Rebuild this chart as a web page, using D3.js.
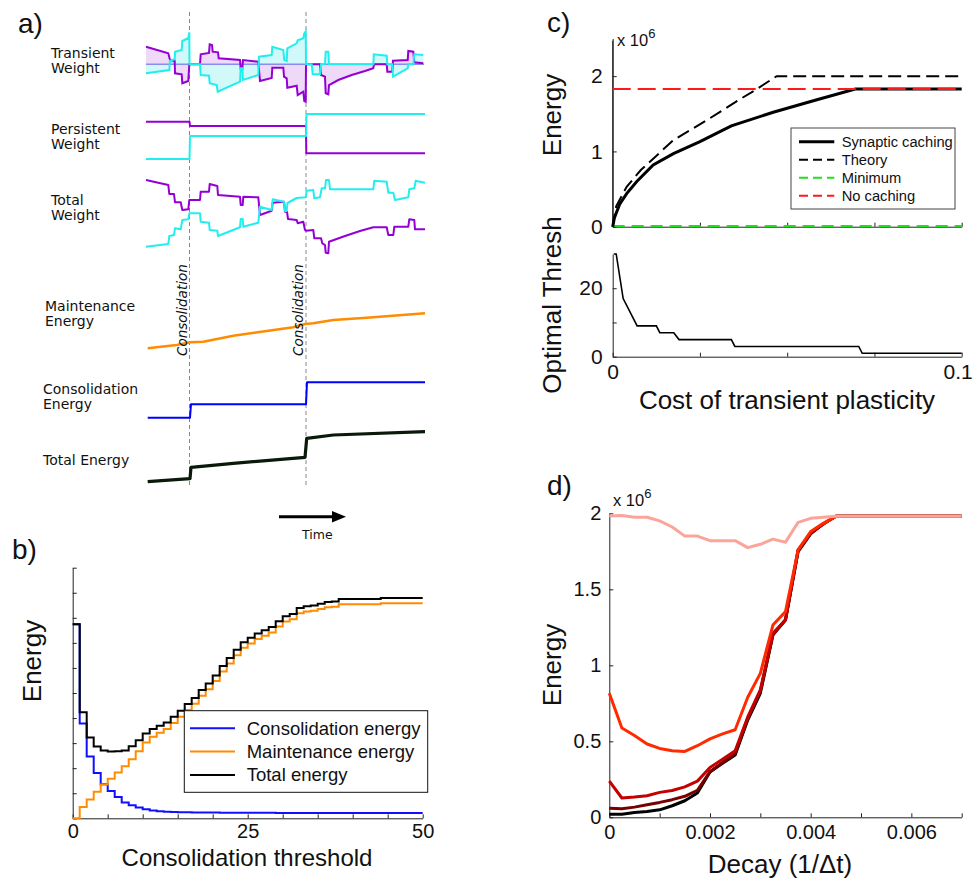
<!DOCTYPE html>
<html>
<head>
<meta charset="utf-8">
<script src="https://cdn.jsdelivr.net/npm/d3@7"></script>
<style>
  body { margin: 0; background: #fff; }
</style>
</head>
<body>
<svg id="fig" width="975" height="882"></svg>
<script>
// ---------- panel a: schematic traces, [time, weight] ----------
const transientPurple = [[0,17.6],[22.3,11],[24,4.3],[28.7,3.3],[29,-9],[35.7,-10],[36.3,-19],[42.3,-16.7],[43.3,0],[54,0],[54.7,10],[63,11.3],[63.7,20],[66,19.3],[66.7,12.6],[72,12],[72.7,6],[94,4.3],[94.7,-4.7],[96.3,-4.7],[97,4.3],[112.3,2.6],[114,-16.7],[125.7,-13.7],[126.3,-3.4],[137.3,-3.4],[138,-12.4],[140.7,-14],[141.3,-23.4],[150.7,-21.4],[151.7,-30.7],[157.3,-27.4],[158.3,-36.7],[159.7,-37.4],[160,0],[174,0],[175,-10.7],[179,-12.4],[179.7,-29],[182.3,-30],[183,-20.7],[192.3,-15.7],[205.7,-10.7],[219,-6.7],[227.3,-4],[228,0],[240.7,0],[241.3,-7.4],[246.3,-7.4],[247,3.6],[261.7,4.3],[262.3,13.3],[267.3,12.6],[268.3,2],[277.3,1]];
const transientCyan = [[0,-9],[23.3,-5.7],[24,3.6],[28.7,5],[29,12.6],[35.7,14.3],[36.3,23.3],[42.3,26.3],[43.3,32],[43.5,0],[54,0],[54.7,-10.7],[63,-11.4],[63.7,-19],[70.7,-20.7],[71.7,-27.4],[94,-17.4],[94.7,-4],[96.3,-4],[97,-15.7],[112.3,-10.7],[113,7.6],[125.7,9.3],[126.3,17.6],[137.3,14.3],[138.3,4.3],[140.7,3.3],[141.3,16],[150.7,21],[151.7,24],[157.3,26],[158.3,31],[159.7,33],[160,0],[165.7,0],[166.7,-10],[174,-10],[175,0],[179,0],[179.7,12.6],[182.3,12.6],[183,0],[227.3,0],[227.8,10],[240.7,8.6],[241.3,0],[246.3,0],[247,-12.4],[261.7,-4],[262.3,0],[267.3,0],[268.3,10],[277.3,9.3]];
const persistentPurple = [[0,18.3],[43.5,18.3],[44,14],[160,14],[160.3,-13.3],[279,-13.3]];
const persistentCyan = [[0,-19],[43.5,-19],[44,4],[160,4],[160.5,26],[279,26]];
const totalPurple = [[0,35],[22.3,30],[23.3,21],[28,21],[29,12.7],[34.7,12.7],[36.3,5],[42.3,5.7],[43.3,15],[54,15],[54.7,23.3],[63,23.3],[63.7,31],[71.3,29],[72,20],[94,18.3],[94.7,10],[96.7,10],[97.3,18.3],[112.3,17.7],[114,0],[125.7,4.3],[126.7,12.3],[138,13.3],[139,3.3],[141,3.3],[142,-4],[150.7,-5],[151.7,-8.3],[157.3,-6.7],[159,-15],[160,-15.7],[167.3,-15],[168.3,-23.3],[175,-23.3],[176.3,-28.3],[179,-30],[179.7,-37.7],[182.3,-38.3],[183,-26.7],[199,-21],[214,-16],[227.3,-12.3],[240.7,-12.3],[242.3,-20],[247.3,-20],[248.3,-11.7],[262.3,-11.7],[263.3,-4.3],[268.3,-5],[269,-14.3],[279,-14.3]];
const totalCyan = [[0,-31.7],[22.3,-29],[23.3,-21],[28,-20],[29,-13.3],[34.7,-14.3],[36.3,-5],[42.3,-4.3],[43.3,1.7],[54,1.7],[54.7,-6.7],[63,-7.7],[63.7,-15],[71.3,-15.7],[72,-21],[94,-12.3],[94.7,-4],[96.7,-4],[97.3,-11.7],[112.3,-7.7],[114,8.3],[125.7,5],[126.7,15.7],[138,13.3],[139,4],[140.7,4],[141.5,12],[150.7,17],[159.7,17.7],[160.7,24.3],[167.3,25],[168.3,16.7],[174,17.7],[175.7,26.7],[179,26.7],[180,35],[183,35],[184,25.7],[227.3,25.7],[228.3,34.3],[240.7,33.3],[242.3,22.3],[247.3,22.3],[249,15],[262.3,17.7],[263.3,25.7],[268.3,26.7],[269.7,34.3],[279,32.3]];
const maintenanceTrace = [[1.7,1.7],[30.7,5],[44,7.7],[57.3,8.3],[87.3,14.3],[120.7,19],[147.3,22.7],[159,26],[167.3,26.7],[187.3,30],[220.7,32.3],[279,36.7]];
const consolidationTrace = [[1.7,2.3],[44,2.3],[45,15.7],[160,15.7],[161,37.7],[279,37.7]];
const totalEnergyTrace = [[1.7,3.3],[44,6.3],[45,17.7],[87.3,21.7],[159,27.7],[160.7,46.7],[187.3,50],[279,53.3]];
const consolidationTimes = [43.5, 160];

// ---------- panel b: energy vs threshold (steps, threshold 0..49) ----------
const consEnergy = [7.74,3.78,2.47,1.81,1.36,1.09,0.85,0.63,0.52,0.43,0.36,0.31,0.28,0.26,0.25,0.24,0.24,0.23,0.23,0.23,0.23,0.22,0.22,0.22,0.22,0.22,0.22,0.22,0.22,0.21,0.21,0.21,0.21,0.21,0.21,0.21,0.21,0.21,0.21,0.21,0.21,0.21,0.21,0.21,0.21,0.21,0.21,0.21,0.21,0.21];
const maintEnergy = [0,0.45,0.75,1.06,1.35,1.58,1.83,2.08,2.36,2.68,3.02,3.25,3.41,3.56,3.80,4.05,4.32,4.57,4.89,5.15,5.48,5.86,6.18,6.51,6.81,6.98,7.15,7.28,7.41,7.65,7.85,7.94,8.18,8.25,8.28,8.35,8.42,8.44,8.54,8.54,8.54,8.54,8.54,8.54,8.58,8.58,8.58,8.58,8.58,8.58];
const totalEnergy = [7.74,4.23,3.22,2.87,2.71,2.67,2.68,2.71,2.88,3.11,3.38,3.56,3.69,3.82,4.05,4.29,4.56,4.80,5.12,5.38,5.70,6.08,6.40,6.73,7.03,7.20,7.37,7.50,7.63,7.86,8.06,8.15,8.39,8.46,8.49,8.56,8.63,8.65,8.75,8.75,8.75,8.75,8.75,8.75,8.79,8.79,8.79,8.79,8.79,8.79];

// ---------- panel c ----------
const cachingCurve = [[0,0],[0.0005,0.12],[0.002,0.3],[0.004,0.44],[0.0069,0.6],[0.0116,0.82],[0.0174,0.97],[0.025,1.13],[0.034,1.34],[0.046,1.52],[0.058,1.68],[0.0695,1.83],[0.1,1.83]];
const theoryCurve = [[0,0],[0.001,0.27],[0.004,0.53],[0.008,0.75],[0.0174,1.15],[0.0275,1.43],[0.036,1.68],[0.041,1.82],[0.047,2.0],[0.1,2.0]];
const minimumLevel = 0.01;
const noCachingLevel = 1.83;
const optimalThresh = [[0.0003,30],[0.001,30],[0.003,17],[0.007,9],[0.0125,9],[0.0135,7],[0.0175,7],[0.019,5],[0.034,5],[0.035,3],[0.0705,3],[0.0715,1],[0.1,1]];

// ---------- panel d: decay sweep, x = i * 0.00025 ----------
const decayStep = 0.00025;
const decaySeries = [
  { color: "#000000", values: [0.02,0.02,0.031,0.038,0.049,0.076,0.109,0.16,0.298,0.355,0.41,0.64,0.816,1.2,1.298,1.748,1.865,1.93,1.98,1.98,1.98,1.98,1.98,1.98,1.98,1.98,1.98,1.98,1.98] },
  { color: "#7a0000", values: [0.06,0.056,0.067,0.082,0.098,0.116,0.138,0.178,0.30,0.36,0.42,0.65,0.83,1.20,1.30,1.755,1.87,1.93,1.98,1.98,1.98,1.98,1.98,1.98,1.98,1.98,1.98,1.98,1.98] },
  { color: "#c40000", values: [0.238,0.127,0.133,0.142,0.164,0.176,0.2,0.238,0.327,0.382,0.438,0.66,0.838,1.21,1.30,1.76,1.87,1.93,1.98,1.98,1.98,1.98,1.98,1.98,1.98,1.98,1.98,1.98,1.98] },
  { color: "#ff2a00", values: [0.816,0.587,0.538,0.482,0.453,0.438,0.433,0.471,0.516,0.549,0.576,0.79,0.947,1.265,1.353,1.759,1.88,1.934,1.98,1.98,1.98,1.98,1.98,1.98,1.98,1.98,1.98,1.98,1.98] },
  { color: "#fba59a", values: [1.982,1.985,1.974,1.974,1.95,1.91,1.85,1.85,1.82,1.82,1.82,1.774,1.796,1.83,1.81,1.94,1.967,1.974,1.98,1.98,1.98,1.98,1.98,1.98,1.98,1.98,1.98,1.98,1.98] }
];

const svg = d3.select("#fig");
const sans = "Liberation Sans, Arial, sans-serif";
const dv = "DejaVu Sans, Verdana, sans-serif";
const purple = "#9400d3", cyan = "#22eeee";

function text(g, x, y, s, size, opts = {}) {
  const t = g.append("text").attr("x", x).attr("y", y)
    .style("font-family", opts.font || sans).style("font-size", size + "px")
    .attr("fill", opts.fill || "#111").attr("text-anchor", opts.anchor || "start");
  if (opts.rotate) t.attr("transform", `rotate(-90,${x},${y})`);
  if (opts.italic) t.style("font-style", "italic");
  t.text(s);
  return t;
}

// "x 10^6" multiplier as one text with a raised tspan
function multiplier(g, x, y) {
  const t = g.append("text").attr("x", x).attr("y", y)
    .style("font-family", sans).style("font-size", "16.5px").attr("fill", "#111");
  t.append("tspan").text("x 10");
  t.append("tspan").attr("dy", -8).style("font-size", "13px").text("6");
}

function styleAxis(g, size) {
  g.select(".domain").attr("stroke", "#222").attr("stroke-width", 1);
  g.selectAll(".tick line").attr("stroke", "#222");
  g.selectAll(".tick text").style("font-family", sans).style("font-size", size + "px").attr("fill", "#111");
}

// ================= panel a =================
const xA = d3.scaleLinear().domain([0, 280]).range([146, 426]);
const wA = d3.scaleLinear().domain([0, 1]).range([0, -1]);
const lineA = d3.line().x(d => xA(d[0])).y(d => wA(d[1]));
const areaA = d3.area().x(d => xA(d[0])).y0(0).y1(d => wA(d[1]));
const pa = svg.append("g");

text(pa, 18, 33, "a)", 28);

// dashed consolidation markers
pa.selectAll("line.cons").data(consolidationTimes).join("line")
  .attr("x1", d => xA(d)).attr("x2", d => xA(d)).attr("y1", 12).attr("y2", 488)
  .attr("stroke", "#888").attr("stroke-dasharray", "4,3").attr("stroke-width", 1);

// transient row
const rT = pa.append("g").attr("transform", "translate(0,64.3)");
rT.append("path").datum(transientPurple).attr("d", areaA).attr("fill", purple).attr("fill-opacity", 0.15);
rT.append("path").datum(transientCyan).attr("d", areaA).attr("fill", "#00e0e0").attr("fill-opacity", 0.18);
rT.append("line").attr("x1", xA(0)).attr("x2", xA(278)).attr("stroke", "#8a8cf0").attr("stroke-width", 1.5);
rT.append("path").datum(transientPurple).attr("d", lineA).attr("fill", "none").attr("stroke", purple).attr("stroke-width", 2);
rT.append("path").datum(transientCyan).attr("d", lineA).attr("fill", "none").attr("stroke", cyan).attr("stroke-width", 2);

function traceRow(base, series) {
  const r = pa.append("g").attr("transform", `translate(0,${base})`);
  series.forEach(s => r.append("path").datum(s.data).attr("d", lineA).attr("fill", "none")
    .attr("stroke", s.color).attr("stroke-width", s.w || 2).attr("stroke-linejoin", "round"));
}
traceRow(140, [{ data: persistentPurple, color: purple }, { data: persistentCyan, color: cyan }]);
traceRow(215, [{ data: totalPurple, color: purple }, { data: totalCyan, color: cyan }]);
traceRow(350, [{ data: maintenanceTrace, color: "#ff8c00", w: 2.5 }]);
traceRow(420, [{ data: consolidationTrace, color: "#0000ff", w: 2 }]);
traceRow(485, [{ data: totalEnergyTrace, color: "#0a1a0a", w: 3.2 }]);

[["Transient", 51, 57.5], ["Weight", 51, 73], ["Persistent", 51, 133.5], ["Weight", 51, 149],
 ["Total", 51, 204.5], ["Weight", 51, 220], ["Maintenance", 45, 310.5], ["Energy", 45, 326],
 ["Consolidation", 43, 393.5], ["Energy", 43, 409], ["Total Energy", 43, 465]]
  .forEach(([s, x, y]) => text(pa, x, y, s, 14, { font: dv }));

consolidationTimes.forEach(t => text(pa, xA(t) - 3, 356, "Consolidation", 13.5, { font: dv, rotate: true, italic: true }));

// time arrow
pa.append("line").attr("x1", 279).attr("x2", 334).attr("y1", 516.7).attr("y2", 516.7)
  .attr("stroke", "#000").attr("stroke-width", 3);
pa.append("path").attr("d", "M332,511 L346,516.7 L332,522.4 Z").attr("fill", "#000");
text(pa, 302, 539, "Time", 12.5, { font: dv });

// ================= panel b =================
const xB = d3.scaleLinear().domain([0, 50]).range([72.7, 422.7]);
const yB = d3.scaleLinear().domain([0, 10]).range([818.3, 567.7]);
const pb = svg.append("g");
text(pb, 12, 559, "b)", 28);

const gxB = pb.append("g").attr("transform", `translate(0,${yB(0)})`)
  .call(d3.axisBottom(xB).tickValues(d3.range(0, 51, 5)).tickSizeInner(-4).tickSizeOuter(0).tickPadding(6)
    .tickFormat(d => [0, 25, 50].includes(d) ? d : ""));
styleAxis(gxB, 20);
const gyB = pb.append("g").attr("transform", `translate(${xB(0)},0)`)
  .call(d3.axisLeft(yB).tickValues(d3.range(0, 11, 1)).tickSizeInner(-4).tickSizeOuter(0).tickFormat(""));
styleAxis(gyB, 17);

const stepLine = d3.line().curve(d3.curveStepAfter).x((d, i) => xB(i)).y(d => yB(d));
const withEnd = arr => arr.concat([arr[arr.length - 1]]);
[[consEnergy, "#1010ff"], [maintEnergy, "#ff8c00"], [totalEnergy, "#000"]].forEach(([arr, c]) =>
  pb.append("path").datum(withEnd(arr)).attr("d", stepLine).attr("fill", "none").attr("stroke", c).attr("stroke-width", 2));

text(pb, 247, 866, "Consolidation threshold", 24, { anchor: "middle" });
text(pb, 41, 661, "Energy", 26, { anchor: "middle", rotate: true });

const legB = pb.append("g");
legB.append("rect").attr("x", 184.3).attr("y", 710.7).attr("width", 243.4).attr("height", 81.6)
  .attr("fill", "#fff").attr("stroke", "#111").attr("stroke-width", 1);
[["Consolidation energy", "#1010ff"], ["Maintenance energy", "#ff8c00"], ["Total energy", "#000"]].forEach(([s, c], i) => {
  const y = 728.3 + i * 23.3;
  legB.append("line").attr("x1", 190).attr("x2", 235).attr("y1", y).attr("y2", y).attr("stroke", c).attr("stroke-width", 2);
  text(legB, 246.7, y + 6.5, s, 18.5);
});

// ================= panel c =================
const xC = d3.scaleLinear().domain([0, 0.1]).range([612.7, 961.7]);
const yCt = d3.scaleLinear().domain([0, 2.5]).range([226.7, 38.5]);
const yCb = d3.scaleLinear().domain([0, 30]).range([356.7, 254]);
const pc = svg.append("g");
text(pc, 547, 32, "c)", 28);

const gxCt = pc.append("g").attr("transform", `translate(0,${yCt(0)})`)
  .call(d3.axisBottom(xC).tickValues(d3.range(0, 5).map(i => i * 0.025)).tickSizeInner(-4).tickSizeOuter(0).tickFormat(""));
styleAxis(gxCt, 18);
const gyCt = pc.append("g").attr("transform", `translate(${xC(0)},0)`)
  .call(d3.axisLeft(yCt).tickValues([0, 1, 2]).tickSizeInner(-4).tickSizeOuter(0).tickPadding(10).tickFormat(d3.format("d")));
styleAxis(gyCt, 21);
pc.append("line").attr("x1", xC(0)).attr("x2", xC(0)).attr("y1", yCt(0)).attr("y2", 40.7).attr("stroke", "#222");

const lineCt = d3.line().x(d => xC(d[0])).y(d => yCt(d[1]));
pc.append("path").datum([[0, minimumLevel], [0.1, minimumLevel]]).attr("d", lineCt).attr("fill", "none")
  .attr("stroke", "#22dd22").attr("stroke-width", 2).attr("stroke-dasharray", "12,7");
pc.append("path").datum(theoryCurve).attr("d", lineCt).attr("fill", "none")
  .attr("stroke", "#000").attr("stroke-width", 2).attr("stroke-dasharray", "13,6");
pc.append("path").datum(cachingCurve).attr("d", lineCt).attr("fill", "none")
  .attr("stroke", "#000").attr("stroke-width", 3);
pc.append("path").datum([[0, noCachingLevel], [0.1, noCachingLevel]]).attr("d", lineCt).attr("fill", "none")
  .attr("stroke", "#ff1a1a").attr("stroke-width", 2).attr("stroke-dasharray", "18,7");

multiplier(pc, 617, 46);

const legC = pc.append("g");
legC.append("rect").attr("x", 791).attr("y", 128).attr("width", 164).attr("height", 81)
  .attr("fill", "#fff").attr("stroke", "#444").attr("stroke-width", 1);
[["Synaptic caching", "#000", null, 3], ["Theory", "#000", "9,5", 2], ["Minimum", "#22dd22", "9,5", 2], ["No caching", "#ff1a1a", "9,5", 2]]
  .forEach(([s, c, dash, w], i) => {
    const y = 141.7 + i * 18;
    legC.append("line").attr("x1", 799).attr("x2", 834.3).attr("y1", y).attr("y2", y)
      .attr("stroke", c).attr("stroke-width", w).attr("stroke-dasharray", dash);
    text(legC, 841.7, y + 5, s, 14.7);
  });

const gxCb = pc.append("g").attr("transform", `translate(0,${yCb(0)})`)
  .call(d3.axisBottom(xC).tickValues(d3.range(0, 5).map(i => i * 0.025)).tickSizeInner(-4).tickSizeOuter(0).tickPadding(7)
    .tickFormat(d => d === 0 ? "0" : (Math.abs(d - 0.1) < 1e-9 ? "0.1" : "")));
styleAxis(gxCb, 21);
// keep the right-most label inside the page
gxCb.selectAll(".tick text").filter(d => Math.abs(d - 0.1) < 1e-9).attr("dx", -4);
const gyCb = pc.append("g").attr("transform", `translate(${xC(0)},0)`)
  .call(d3.axisLeft(yCb).tickValues([0, 10, 20]).tickSizeInner(-4).tickSizeOuter(0).tickPadding(10)
    .tickFormat(d => d === 10 ? "" : d));
styleAxis(gyCb, 21);
pc.append("path").datum(optimalThresh).attr("d", d3.line().x(d => xC(d[0])).y(d => yCb(d[1])))
  .attr("fill", "none").attr("stroke", "#000").attr("stroke-width", 1.6);

text(pc, 787, 409, "Cost of transient plasticity", 26, { anchor: "middle" });
text(pc, 561, 115, "Energy", 26, { anchor: "middle", rotate: true });
text(pc, 561, 305, "Optimal Thresh", 26, { anchor: "middle", rotate: true });

// ================= panel d =================
const xD = d3.scaleLinear().domain([0, 0.007]).range([609.3, 961.7]);
const yD = d3.scaleLinear().domain([0, 2]).range([817.3, 513.3]);
const pd = svg.append("g");
text(pd, 547, 495, "d)", 28);

const gxD = pd.append("g").attr("transform", `translate(0,${yD(0)})`)
  .call(d3.axisBottom(xD).tickValues(d3.range(0, 8).map(i => i * 0.001)).tickSizeInner(-4).tickSizeOuter(0).tickPadding(8)
    .tickFormat((d, i) => i % 2 === 0 ? (i === 0 ? "0" : d3.format(".3f")(d)) : ""));
styleAxis(gxD, 20);
const gyD = pd.append("g").attr("transform", `translate(${xD(0)},0)`)
  .call(d3.axisLeft(yD).tickValues([0, 0.5, 1, 1.5, 2]).tickSizeInner(-4).tickSizeOuter(0).tickPadding(8)
    .tickFormat(d => String(d)));
styleAxis(gyD, 20);

const lineD = d3.line().x((d, i) => xD(i * decayStep)).y(d => yD(d));
decaySeries.forEach(s => pd.append("path").datum(s.values).attr("d", lineD).attr("fill", "none")
  .attr("stroke", s.color).attr("stroke-width", 3).attr("stroke-linejoin", "round"));

multiplier(pd, 613, 506);
text(pd, 780, 873, "Decay (1/Δt)", 26, { anchor: "middle" });
text(pd, 561, 665, "Energy", 26, { anchor: "middle", rotate: true });
</script>
</body>
</html>
